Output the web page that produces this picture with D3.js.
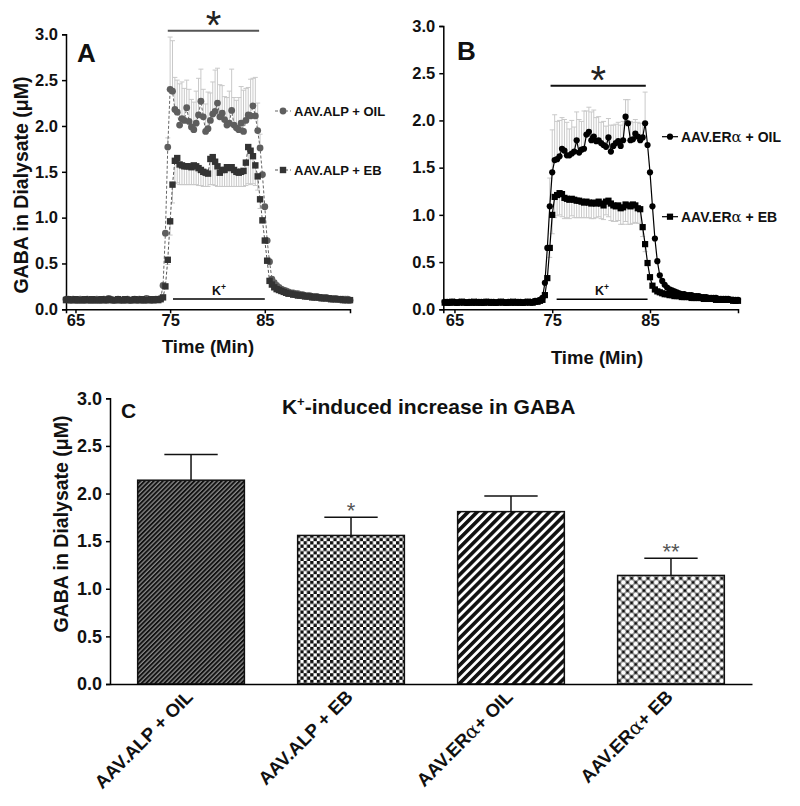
<!DOCTYPE html>
<html>
<head>
<meta charset="utf-8">
<script src="https://cdn.jsdelivr.net/npm/d3@7"></script>
<style>
html,body{margin:0;padding:0;background:#fff;}
svg{display:block;}
text{font-family:"Liberation Sans",Arial,sans-serif;}
</style>
</head>
<body>
<svg id="chart" width="800" height="806"></svg>
<script>
// ---------------- DATA ----------------
// sample times (min), shared by panels A and B
const minutes = [
64,64.25,64.5,64.75,65,65.25,65.5,65.75,66,66.25,66.5,66.75,67,67.25,67.5,67.75,68,68.25,68.5,68.75,69,69.25,69.5,69.75,70,70.25,70.5,70.75,71,71.25,71.5,71.75,72,72.25,72.5,72.75,73,73.25,73.5,73.75,74,
74.25,74.5,74.75,75,75.25,75.5,75.75,76,76.25,76.5,76.75,77,77.25,77.5,77.75,78,78.25,78.5,78.75,79,79.25,79.5,79.75,80,80.25,80.5,80.75,81,81.25,81.5,81.75,82,82.25,82.5,82.75,83,83.25,83.5,83.75,84,
84.25,84.5,84.75,85,85.25,85.5,85.75,86,86.25,86.5,86.75,87,87.25,87.5,87.75,88,88.25,88.5,88.75,89,89.25,89.5,89.75,90,90.25,90.5,90.75,91,91.25,91.5,91.75,92,92.25,92.5,92.75,93,93.25,93.5,93.75,94];

// Panel A: AAV.ALP + OIL
const alpOil = [
0.11,0.11,0.10,0.11,0.10,0.10,0.11,0.10,0.10,0.11,0.10,0.10,0.10,0.11,0.10,0.10,0.11,0.10,0.12,0.11,0.10,0.10,0.11,0.10,0.10,0.10,0.11,0.10,0.10,0.11,0.10,0.11,0.10,0.10,0.12,0.11,0.10,0.10,0.11,0.11,0.12,
0.26,0.83,1.77,2.40,2.38,2.18,2.15,2.01,2.08,2.06,2.20,2.05,1.99,1.96,2.03,2.12,2.27,2.10,1.94,1.97,2.06,2.13,2.16,2.25,2.10,2.14,2.07,2.01,2.03,2.17,2.01,1.98,1.96,2.03,1.94,2.06,2.12,2.11,2.22,2.11,
1.95,1.76,1.47,1.12,0.75,0.52,0.33,0.29,0.26,0.24,0.22,0.21,0.20,0.19,0.18,0.18,0.17,0.17,0.16,0.16,0.15,0.15,0.15,0.14,0.14,0.14,0.13,0.13,0.13,0.13,0.12,0.12,0.12,0.12,0.11,0.11,0.11,0.11,0.11,0.10];
// Panel A: AAV.ALP + EB
const alpEb = [
0.10,0.11,0.10,0.10,0.11,0.10,0.10,0.10,0.11,0.10,0.10,0.11,0.10,0.10,0.10,0.11,0.10,0.10,0.11,0.10,0.10,0.10,0.11,0.10,0.10,0.11,0.10,0.10,0.10,0.11,0.10,0.10,0.11,0.10,0.10,0.10,0.11,0.10,0.11,0.10,0.11,
0.13,0.25,0.54,0.96,1.36,1.62,1.65,1.58,1.57,1.56,1.56,1.56,1.55,1.57,1.56,1.54,1.52,1.50,1.49,1.48,1.64,1.66,1.61,1.56,1.49,1.52,1.52,1.55,1.54,1.55,1.52,1.50,1.49,1.50,1.51,1.60,1.77,1.73,1.67,1.57,
1.45,1.20,0.97,0.75,0.53,0.31,0.27,0.24,0.22,0.21,0.20,0.19,0.18,0.17,0.17,0.16,0.16,0.15,0.15,0.15,0.14,0.14,0.14,0.13,0.13,0.13,0.13,0.12,0.12,0.12,0.12,0.11,0.11,0.11,0.11,0.11,0.10,0.10,0.10,0.10];
// Panel B: AAV.ERα + OIL
const eraOil = [
0.08,0.08,0.07,0.08,0.08,0.07,0.08,0.08,0.08,0.07,0.08,0.08,0.07,0.08,0.08,0.08,0.07,0.08,0.08,0.08,0.08,0.07,0.08,0.08,0.08,0.07,0.08,0.08,0.07,0.08,0.08,0.08,0.07,0.08,0.08,0.08,0.08,0.09,0.09,0.10,0.12,
0.28,0.65,1.09,1.45,1.58,1.59,1.62,1.70,1.68,1.63,1.63,1.65,1.67,1.79,1.66,1.69,1.70,1.85,1.88,1.79,1.83,1.78,1.79,1.76,1.74,1.72,1.82,1.67,1.73,1.76,1.78,1.73,1.79,2.04,1.97,1.79,1.80,1.86,1.83,1.79,
1.82,1.97,1.74,1.45,1.09,0.75,0.51,0.36,0.30,0.26,0.23,0.21,0.20,0.19,0.18,0.17,0.16,0.16,0.15,0.15,0.15,0.14,0.14,0.14,0.13,0.13,0.13,0.12,0.12,0.12,0.12,0.11,0.11,0.11,0.11,0.11,0.10,0.10,0.10,0.10];
// Panel B: AAV.ERα + EB
const eraEb = [
0.07,0.07,0.07,0.08,0.07,0.07,0.07,0.08,0.07,0.07,0.07,0.07,0.08,0.07,0.07,0.07,0.07,0.08,0.07,0.07,0.07,0.07,0.07,0.08,0.07,0.07,0.07,0.07,0.08,0.07,0.07,0.07,0.07,0.07,0.08,0.07,0.07,0.08,0.08,0.09,0.10,
0.15,0.33,0.65,1.00,1.19,1.21,1.23,1.22,1.18,1.17,1.16,1.17,1.16,1.15,1.15,1.14,1.13,1.14,1.13,1.12,1.13,1.12,1.14,1.12,1.10,1.14,1.15,1.12,1.10,1.09,1.10,1.07,1.08,1.11,1.10,1.09,1.11,1.10,1.07,1.06,
0.87,0.69,0.49,0.34,0.25,0.21,0.19,0.18,0.17,0.16,0.16,0.15,0.15,0.14,0.14,0.14,0.13,0.13,0.13,0.13,0.12,0.12,0.12,0.12,0.12,0.11,0.11,0.11,0.11,0.11,0.10,0.10,0.10,0.10,0.10,0.10,0.10,0.09,0.09,0.09];

// SEM during K+ stimulation (times in semMinutes)
const semMinutes = [74.75,75,75.25,75.5,75.75,76,76.25,76.5,76.75,77,77.25,77.5,77.75,78,78.25,78.5,78.75,79,79.25,79.5,79.75,80,80.25,80.5,80.75,81,81.25,81.5,81.75,82,82.25,82.5,82.75,83,83.25,83.5,83.75,84,84.25,84.5];
const alpOilSem = [0.10,0.57,0.55,0.35,0.35,0.45,0.40,0.35,0.30,0.35,0.30,0.30,0.35,0.40,0.35,0.30,0.30,0.40,0.30,0.35,0.45,0.38,0.35,0.30,0.25,0.30,0.35,0.45,0.30,0.30,0.35,0.40,0.45,0.35,0.30,0.40,0.30,0.42,0.30,0.15];
const alpEbSem  = [0.05,0.15,0.20,0.25,0.27,0.22,0.21,0.20,0.20,0.20,0.19,0.21,0.20,0.19,0.17,0.16,0.15,0.14,0.28,0.30,0.26,0.22,0.15,0.18,0.18,0.21,0.20,0.21,0.18,0.16,0.15,0.16,0.17,0.25,0.40,0.37,0.30,0.22,0.15,0.10];
const eraOilSem = [0.30,0.45,0.48,0.40,0.38,0.33,0.33,0.35,0.28,0.35,0.26,0.30,0.35,0.30,0.40,0.25,0.26,0.30,0.28,0.25,0.25,0.22,0.25,0.22,0.20,0.28,0.22,0.20,0.20,0.22,0.20,0.18,0.25,0.20,0.18,0.15,0.15,0.18,0.15,0.33];
const eraEbSem  = [0.10,0.20,0.22,0.22,0.23,0.24,0.22,0.20,0.20,0.18,0.19,0.18,0.18,0.17,0.16,0.17,0.16,0.16,0.17,0.15,0.16,0.16,0.15,0.14,0.17,0.18,0.17,0.16,0.16,0.17,0.18,0.18,0.20,0.19,0.20,0.18,0.16,0.15,0.10,0.08];

const timeTicks = [65, 75, 85];
const gabaTicks = [0, 0.5, 1.0, 1.5, 2.0, 2.5, 3.0];

// Panel C
const groups = ["AAV.ALP + OIL", "AAV.ALP + EB", "AAV.ERα+ OIL", "AAV.ERα+ EB"];
const groupMeans = [2.14, 1.56, 1.81, 1.14];
const groupSems = [0.27, 0.19, 0.165, 0.18];
const groupSig = ["", "*", "", "**"];

// ---------------- DRAWING ----------------
const svg = d3.select("#chart");
const FONT = '"Liberation Sans",Arial,sans-serif';

// patterns
const defs = svg.append("defs");
const p1 = defs.append("pattern").attr("id","pat1").attr("patternUnits","userSpaceOnUse")
  .attr("width",3.2).attr("height",3.2).attr("patternTransform","rotate(45)");
p1.append("rect").attr("width",3.2).attr("height",3.2).attr("fill","#8a8a8a");
p1.append("rect").attr("width",1.9).attr("height",3.2).attr("fill","#111");
const p2 = defs.append("pattern").attr("id","pat2").attr("patternUnits","userSpaceOnUse")
  .attr("width",6.6).attr("height",6.6);
p2.append("rect").attr("width",6.6).attr("height",6.6).attr("fill","#fff");
p2.append("rect").attr("width",3.3).attr("height",3.3).attr("fill","#111");
p2.append("rect").attr("x",3.3).attr("y",3.3).attr("width",3.3).attr("height",3.3).attr("fill","#111");
const p3 = defs.append("pattern").attr("id","pat3").attr("patternUnits","userSpaceOnUse")
  .attr("width",6.4).attr("height",6.4).attr("patternTransform","rotate(45)");
p3.append("rect").attr("width",6.4).attr("height",6.4).attr("fill","#fff");
p3.append("rect").attr("width",3.6).attr("height",6.4).attr("fill","#111");
const p4 = defs.append("pattern").attr("id","pat4").attr("patternUnits","userSpaceOnUse")
  .attr("width",5.8).attr("height",5.8).attr("patternTransform","rotate(45)");
p4.append("rect").attr("width",5.8).attr("height",5.8).attr("fill","#fff");
p4.append("rect").attr("x",2.5).attr("width",0.8).attr("height",5.8).attr("fill","#111");
p4.append("rect").attr("y",2.5).attr("width",5.8).attr("height",0.8).attr("fill","#111");
p4.append("rect").attr("x",1.5).attr("y",1.5).attr("width",2.8).attr("height",2.8).attr("fill","#111");

function styleAxis(g, size) {
  g.selectAll(".domain").attr("stroke","#000").attr("stroke-width",1.5);
  g.selectAll(".tick line").attr("stroke","#000").attr("stroke-width",1.5);
  g.selectAll(".tick text").attr("font-family",FONT).attr("font-weight","bold")
    .attr("font-size",size).attr("fill","#111");
}

function star(parent, cx, cy, size, color, txt) {
  // asterisk glyph centred on (cx, cy)
  return parent.append("text").attr("x",cx).attr("y",cy + size*0.55).attr("text-anchor","middle")
    .attr("font-family","Liberation Mono").attr("font-size",size)
    .attr("fill",color).text(txt);
}

function timePanel(cfg) {
  const g = svg.append("g");
  const x = d3.scaleLinear().domain(cfg.xDomain).range(cfg.xRange);
  const y = d3.scaleLinear().domain([0,3]).range(cfg.yRange);

  // error bars
  cfg.series.forEach(s => {
    const eg = g.append("g");
    semMinutes.forEach((t, i) => {
      const v = s.values[minutes.indexOf(t)];
      const e = s.sem[i] * s.dir;
      eg.append("line").attr("x1",x(t)).attr("x2",x(t)).attr("y1",y(v)).attr("y2",y(v+e))
        .attr("stroke","#c9c9c9").attr("stroke-width",1);
      eg.append("line").attr("x1",x(t)-2.5).attr("x2",x(t)+2.5).attr("y1",y(v+e)).attr("y2",y(v+e))
        .attr("stroke","#c9c9c9").attr("stroke-width",1);
    });
  });

  // axes
  const ya = g.append("g").attr("transform",`translate(${cfg.xRange[0]},0)`)
    .call(d3.axisLeft(y).tickValues(gabaTicks).tickFormat(d3.format(".1f")).tickSize(4).tickPadding(4));
  styleAxis(ya, 16.5);
  const xa = g.append("g").attr("transform",`translate(0,${cfg.yRange[0]})`)
    .call(d3.axisBottom(x).tickValues(timeTicks).tickSize(4).tickPadding(1));
  styleAxis(xa, 16.5);

  // lines + markers
  cfg.series.forEach(s => {
    const line = d3.line().x((d,i)=>x(minutes[i])).y(d=>y(d));
    g.append("path").datum(s.values).attr("d",line).attr("fill","none")
      .attr("stroke",s.lineColor).attr("stroke-width",s.lineWidth)
      .attr("stroke-dasharray",s.dash || null);
    const mg = g.append("g");
    s.values.forEach((v,i) => {
      if (s.shape === "circle") {
        mg.append("circle").attr("cx",x(minutes[i])).attr("cy",y(v)).attr("r",s.size)
          .attr("fill",s.color);
      } else {
        mg.append("rect").attr("x",x(minutes[i])-s.size).attr("y",y(v)-s.size)
          .attr("width",2*s.size).attr("height",2*s.size).attr("fill",s.color);
      }
    });
  });

  // K+ bar
  g.append("line").attr("x1",x(cfg.kRange[0])).attr("x2",x(cfg.kRange[1]))
    .attr("y1",cfg.kY).attr("y2",cfg.kY).attr("stroke","#000").attr("stroke-width",1.5);
  const kt = g.append("text").attr("x",x((cfg.kRange[0]+cfg.kRange[1])/2)).attr("y",cfg.kY-4)
    .attr("text-anchor","middle").attr("font-size",12.5).attr("font-weight","bold").attr("fill","#111");
  kt.append("tspan").text("K");
  kt.append("tspan").attr("font-size",8.5).attr("dy",-5).text("+");

  // significance
  g.append("line").attr("x1",x(cfg.sigRange[0])).attr("x2",x(cfg.sigRange[1]))
    .attr("y1",cfg.sigY).attr("y2",cfg.sigY).attr("stroke",cfg.sigColor).attr("stroke-width",2);
  star(g, (x(cfg.sigRange[0])+x(cfg.sigRange[1]))/2, cfg.sigY-14, 40, "#222", "*");

  // panel letter
  g.append("text").attr("x",cfg.letterX).attr("y",cfg.letterY).attr("font-size",26)
    .attr("font-weight","bold").attr("fill","#111").text(cfg.letter);

  // x title
  g.append("text").attr("x",cfg.xTitleX).attr("y",cfg.xTitleY).attr("text-anchor","middle")
    .attr("font-size",18.5).attr("font-weight","bold").attr("fill","#111").text("Time (Min)");

  // legend
  cfg.series.forEach(s => {
    const lg = g.append("g");
    lg.append("line").attr("x1",s.legX-8).attr("x2",s.legX+8).attr("y1",s.legY).attr("y2",s.legY)
      .attr("stroke",s.lineColor).attr("stroke-width",1.2).attr("stroke-dasharray",s.dash || null);
    if (s.shape === "circle") lg.append("circle").attr("cx",s.legX).attr("cy",s.legY).attr("r",s.size).attr("fill",s.color);
    else lg.append("rect").attr("x",s.legX-s.size).attr("y",s.legY-s.size).attr("width",2*s.size).attr("height",2*s.size).attr("fill",s.color);
    const t = lg.append("text").attr("x",s.legX+11).attr("y",s.legY+5).attr("font-size",cfg.legFont)
      .attr("font-weight","bold").attr("fill","#111");
    const parts = s.label.split("α");
    t.append("tspan").text(parts[0]);
    if (parts.length > 1) {
      t.append("tspan").attr("font-family","DejaVu Serif").attr("font-weight","normal").attr("font-size",cfg.legFont+1).text("α");
      t.append("tspan").text(parts[1]);
    }
  });
  return {x, y};
}

timePanel({
  xDomain:[64,94], xRange:[66,350], yRange:[309.3,34.3],
  series:[
    {values:alpOil, sem:alpOilSem, dir:1, shape:"circle", size:3.4, color:"#5e5e5e",
     lineColor:"#666", lineWidth:1, dash:"3,2", label:"AAV.ALP + OIL", legX:283, legY:111},
    {values:alpEb, sem:alpEbSem, dir:-1, shape:"square", size:3.2, color:"#333",
     lineColor:"#555", lineWidth:1, dash:"3,2", label:"AAV.ALP + EB", legX:283, legY:170}
  ],
  kRange:[75.3,85.0], kY:299, sigRange:[74.75,84.4], sigY:30.7, sigColor:"#555",
  letter:"A", letterX:77, letterY:62, xTitleX:208, xTitleY:353, legFont:13
});

timePanel({
  xDomain:[63.86,94], xRange:[443.3,738], yRange:[309.3,26],
  series:[
    {values:eraOil, sem:eraOilSem, dir:1, shape:"circle", size:3.1, color:"#000",
     lineColor:"#000", lineWidth:1.2, dash:null, label:"AAV.ERα + OIL", legX:670, legY:136.7},
    {values:eraEb, sem:eraEbSem, dir:-1, shape:"square", size:3.1, color:"#000",
     lineColor:"#000", lineWidth:1.2, dash:null, label:"AAV.ERα + EB", legX:670, legY:216.7}
  ],
  kRange:[75.45,84.75], kY:299.3, sigRange:[74.83,84.57], sigY:85.7, sigColor:"#111",
  letter:"B", letterX:457, letterY:60, xTitleX:597, xTitleY:364, legFont:14
});

// y titles
function yTitle(x, y) {
  const t = svg.append("text").attr("transform",`translate(${x},${y}) rotate(-90)`)
    .attr("text-anchor","middle").attr("font-size",19.5).attr("font-weight","bold").attr("fill","#111");
  t.append("tspan").text("GABA in Dialysate (");
  t.append("tspan").text("μ");
  t.append("tspan").text("M)");
}
yTitle(28, 185);
yTitle(68, 524);

// ---------------- Panel C ----------------
const xC = d3.scaleBand().domain(groups).range([110,752]).paddingInner(0.333).paddingOuter(0.173);
const yC = d3.scaleLinear().domain([0,3]).range([684,398.3]);
const gC = svg.append("g");
const pats = ["url(#pat1)","url(#pat2)","url(#pat3)","url(#pat4)"];
groups.forEach((gname,i) => {
  const x0 = xC(gname), bw = xC.bandwidth(), cx = x0 + bw/2;
  gC.append("rect").attr("x",x0).attr("y",yC(groupMeans[i])).attr("width",bw)
    .attr("height",yC(0)-yC(groupMeans[i])).attr("fill",pats[i]).attr("stroke","#111").attr("stroke-width",1.5);
  const top = groupMeans[i] + groupSems[i];
  gC.append("line").attr("x1",cx).attr("x2",cx).attr("y1",yC(groupMeans[i])).attr("y2",yC(top))
    .attr("stroke","#111").attr("stroke-width",1.5);
  gC.append("line").attr("x1",cx-bw/4).attr("x2",cx+bw/4).attr("y1",yC(top)).attr("y2",yC(top))
    .attr("stroke","#111").attr("stroke-width",1.5);
  if (groupSig[i]) {
    star(gC, cx, yC(top)-11, 22, "#555", groupSig[i]);
  }
  // category label
  const lt = gC.append("text").attr("transform",`translate(${cx+3},${698}) rotate(-45)`)
    .attr("text-anchor","end").attr("font-size",18.5).attr("font-weight","bold").attr("fill","#111");
  const parts = gname.split("α");
  lt.append("tspan").text(parts[0]);
  if (parts.length > 1) {
    lt.append("tspan").attr("font-family","DejaVu Serif").attr("font-weight","normal").attr("font-size",19.5).text("α");
    lt.append("tspan").text(parts[1]);
  }
});
const yaC = gC.append("g").attr("transform","translate(110,0)")
  .call(d3.axisLeft(yC).tickValues(gabaTicks).tickFormat(d3.format(".1f")).tickSize(4).tickPadding(4));
styleAxis(yaC, 18);
const xaC = gC.append("g").attr("transform",`translate(0,${yC(0)})`)
  .call(d3.axisBottom(xC).tickValues([]).tickSizeOuter(0));
styleAxis(xaC, 16);

const title = gC.append("text").attr("x",428.7).attr("y",414).attr("text-anchor","middle")
  .attr("font-size",21).attr("font-weight","bold").attr("fill","#111");
title.append("tspan").text("K");
title.append("tspan").attr("font-size",13).attr("dy",-8).text("+");
title.append("tspan").attr("dy",8).text("-induced increase in GABA");

gC.append("text").attr("x",121).attr("y",418).attr("font-size",21).attr("font-weight","bold")
  .attr("fill","#111").text("C");
</script>
</body>
</html>
